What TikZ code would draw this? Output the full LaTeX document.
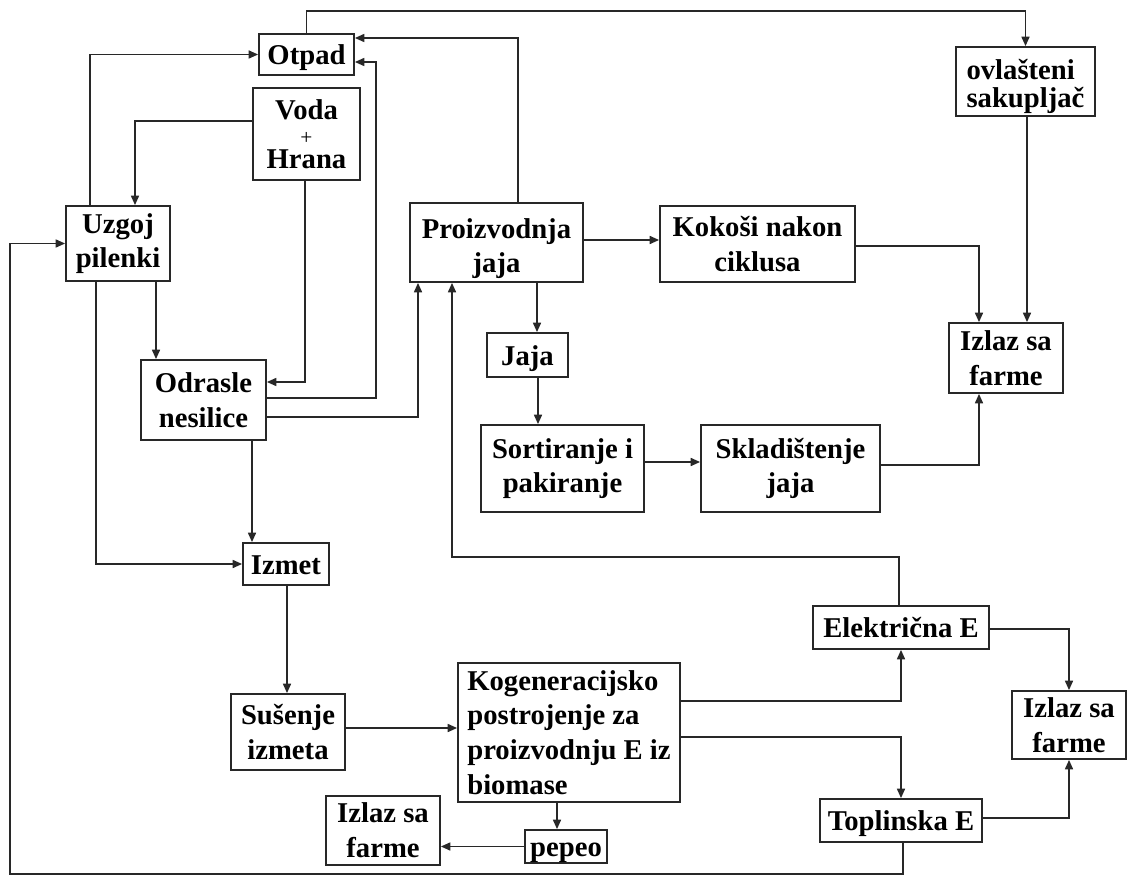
\documentclass[tikz,border=0pt]{standalone}
\usepackage{fontspec}
\setmainfont{Liberation Serif}
\usetikzlibrary{arrows.meta}
\definecolor{lc}{RGB}{40,40,40}
\begin{document}
\begin{tikzpicture}[x=0.75pt,y=-0.75pt,
  box/.style n args={2}{draw=lc, line width=1.4pt, inner sep=0pt,
    minimum width=#1*0.75pt, minimum height=#2*0.75pt, align=center,
    font=\fontsize{21.5}{26}\selectfont\bfseries, text=black},
  one/.style={text height=18pt, text depth=3pt},
  arr/.style={draw=lc, line width=1.1pt, -{Triangle[length=7pt,width=6pt]}}]
\useasboundingbox (0,0) rectangle (1128,877);
\fill[white] (0,0) rectangle (1128,877);

% nodes
\node[box={95}{41}, one]  (otpad)  at (306.5,54.5) {Otpad};
\node[box={107}{92}] (voda)   at (306.5,134) {Voda\\[-7pt]{\fontsize{16}{16}\selectfont\mdseries +}\\[-8.5pt]Hrana};
\node[box={104}{75}] (uzgoj)  at (118,243.5) {Uzgoj\\pilenki};
\node[box={125}{80}] (odrasle) at (203.5,400) {Odrasle\\nesilice};
\node[box={86}{42}, one]  (iznet)  at (286,564) {Izmet};
\node[box={114}{76}] (susenje) at (288,732) {Sušenje\\izmeta};
\node[box={114}{69}] (izlaz3) at (383,830.5) {Izlaz sa\\farme};
\node[box={82}{33}, one]  (pepeo)  at (566,846.5) {pepeo};
\node[box={222}{139}, align=left] (kog) at (569,732.5) {Kogeneracijsko\\postrojenje za\\proizvodnju E iz\\biomase};
\node[box={176}{43}, one] (elek)   at (901,627.5) {Električna E};
\node[box={162}{43}, one] (topl)   at (901,820.5) {Toplinska E};
\node[box={114}{68}] (izlaz4) at (1069,725) {Izlaz sa\\farme};
\node[box={173}{79}, text height=50.5pt, text depth=5pt] (proiz)  at (496.5,242.5) {Proizvodnja\\jaja};
\node[box={195}{76}] (kokosi) at (757.5,244) {Kokoši nakon\\ciklusa};
\node[box={139}{69}, align=left, text height=43.3pt, text depth=5pt] (ovl) at (1025.5,81.5) {ovlašteni\\[-5pt]sakupljač};
\node[box={114}{70}] (izlaz2) at (1006,358) {Izlaz sa\\farme};
\node[box={81}{44}, one]  (jaja)   at (527.5,355) {Jaja};
\node[box={163}{87}] (sort)   at (562.5,468.5) {Sortiranje i\\pakiranje};
\node[box={179}{87}] (sklad)  at (790.5,468.5) {Skladištenje\\jaja};

% connectors
\draw[arr] (uzgoj.north -| 90,0) |- (otpad.west);
\draw[arr] (voda.west |- 0,121) -| (uzgoj.north -| 135,0);
\draw[arr] (voda.south -| 305,0) |- (odrasle.east |- 0,382);
\draw[arr] (odrasle.east |- 0,398) -| (376,62) -- (otpad.east |- 0,62);
\draw[arr] (proiz.north -| 518,0) |- (otpad.east |- 0,38);
\draw[arr] (otpad.north) -- (otpad.north |- 0,11) -| (ovl.north);
\draw[arr] (uzgoj.south -| 156,0) -- (odrasle.north -| 156,0);
\draw[arr] (uzgoj.south -| 96,0) |- (iznet.west);
\draw[arr] (odrasle.south -| 252,0) -- (iznet.north -| 252,0);
\draw[arr] (odrasle.east |- 0,417) -| (proiz.south -| 418,0);
\draw[arr] (proiz.east |- 0,240) -- (kokosi.west |- 0,240);
\draw[arr] (proiz.south -| 537,0) -- (jaja.north -| 537,0);
\draw[arr] (jaja.south -| 538,0) -- (sort.north -| 538,0);
\draw[arr] (sort.east |- 0,462) -- (sklad.west |- 0,462);
\draw[arr] (sklad.east |- 0,465) -| (izlaz2.south -| 979,0);
\draw[arr] (kokosi.east |- 0,246) -| (izlaz2.north -| 979,0);
\draw[arr] (ovl.south -| 1027,0) -- (izlaz2.north -| 1027,0);
\draw[arr] (iznet.south -| 287,0) -- (susenje.north -| 287,0);
\draw[arr] (susenje.east |- 0,728) -- (kog.west |- 0,728);
\draw[arr] (kog.east |- 0,701) -| (elek.south);
\draw[arr] (kog.east |- 0,737) -| (topl.north);
\draw[arr] (kog.south -| 557,0) -- (pepeo.north -| 557,0);
\draw[arr] (pepeo.west) -- (izlaz3.east |- pepeo.west);
\draw[arr] (elek.east |- 0,629) -| (izlaz4.north);
\draw[arr] (topl.east |- 0,818) -| (izlaz4.south);
\draw[arr] (elek.north -| 899,0) |- (452,557) -- (proiz.south -| 452,0);
\draw[arr] (topl.south -| 903,0) |- (10,874) |- (uzgoj.west);
\end{tikzpicture}
\end{document}
